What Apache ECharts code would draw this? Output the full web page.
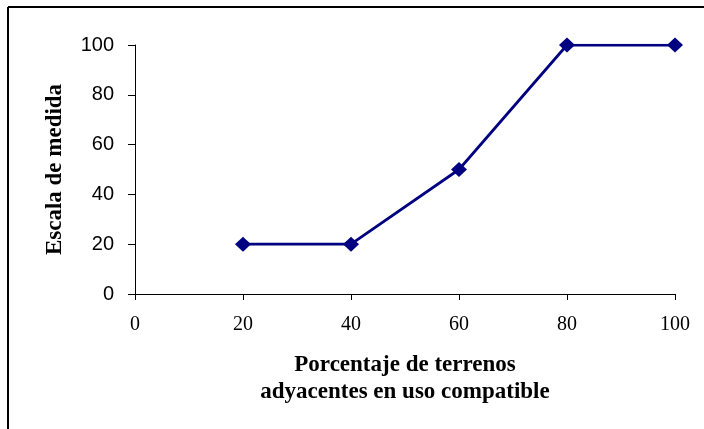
<!DOCTYPE html>
<html>
<head>
<meta charset="utf-8">
<script src="https://cdn.jsdelivr.net/npm/echarts@6/dist/echarts.min.js"></script>
<style>
  html, body { margin: 0; padding: 0; background: #fff; }
  #chart { width: 704px; height: 429px; }
</style>
</head>
<body>
<div id="chart"></div>
<script>
// Porcentaje de terrenos adyacentes vs. escala de medida
const porcentaje = [20, 40, 60, 80, 100];
const escala = [20, 20, 50, 100, 100];
const xTicks = [0, 20, 40, 60, 80, 100];
const yTicks = [0, 20, 40, 60, 80, 100];

const chart = echarts.init(document.getElementById('chart'), null, { renderer: 'canvas' });

const serif = '"Liberation Serif", "Times New Roman", serif';
const sans = '"Liberation Sans", Arial, sans-serif';

chart.setOption({
  animation: false,
  backgroundColor: '#ffffff',
  grid: { left: 135, right: 29, top: 45, bottom: 135, containLabel: false },
  xAxis: {
    type: 'value',
    min: xTicks[0],
    max: xTicks[xTicks.length - 1],
    interval: 20,
    name: 'Porcentaje de terrenos\nadyacentes en uso compatible',
    nameLocation: 'middle',
    nameGap: 58,
    nameTextStyle: {
      fontFamily: serif, fontWeight: 'bold', fontSize: 23, color: '#000',
      lineHeight: 27, verticalAlign: 'top'
    },
    axisLine: { show: true, lineStyle: { color: '#000', width: 1 } },
    axisTick: { show: true, inside: false, length: 6, lineStyle: { color: '#000' } },
    axisLabel: { fontFamily: serif, fontSize: 20, color: '#000', margin: 21 },
    splitLine: { show: false }
  },
  yAxis: {
    type: 'value',
    min: yTicks[0],
    max: yTicks[yTicks.length - 1],
    interval: 20,
    name: 'Escala de medida',
    nameLocation: 'middle',
    nameGap: 68,
    nameTextStyle: { fontFamily: serif, fontWeight: 'bold', fontSize: 23, color: '#000' },
    axisLine: { show: true, lineStyle: { color: '#000', width: 1 } },
    axisTick: { show: true, inside: false, length: 7, lineStyle: { color: '#000' } },
    axisLabel: { fontFamily: sans, fontSize: 20, color: '#000', margin: 21 },
    splitLine: { show: false }
  },
  series: [{
    type: 'line',
    data: porcentaje.map((x, i) => [x, escala[i]]),
    symbol: 'diamond',
    symbolSize: [16, 15],
    lineStyle: { color: '#000080', width: 2.75 },
    itemStyle: { color: '#000080' }
  }],
  graphic: [
    { type: 'line', shape: { x1: 8, y1: 7, x2: 704, y2: 7 }, style: { stroke: '#000', lineWidth: 2 } },
    { type: 'line', shape: { x1: 8, y1: 7, x2: 8, y2: 429 }, style: { stroke: '#000', lineWidth: 2 } }
  ]
});
</script>
</body>
</html>
